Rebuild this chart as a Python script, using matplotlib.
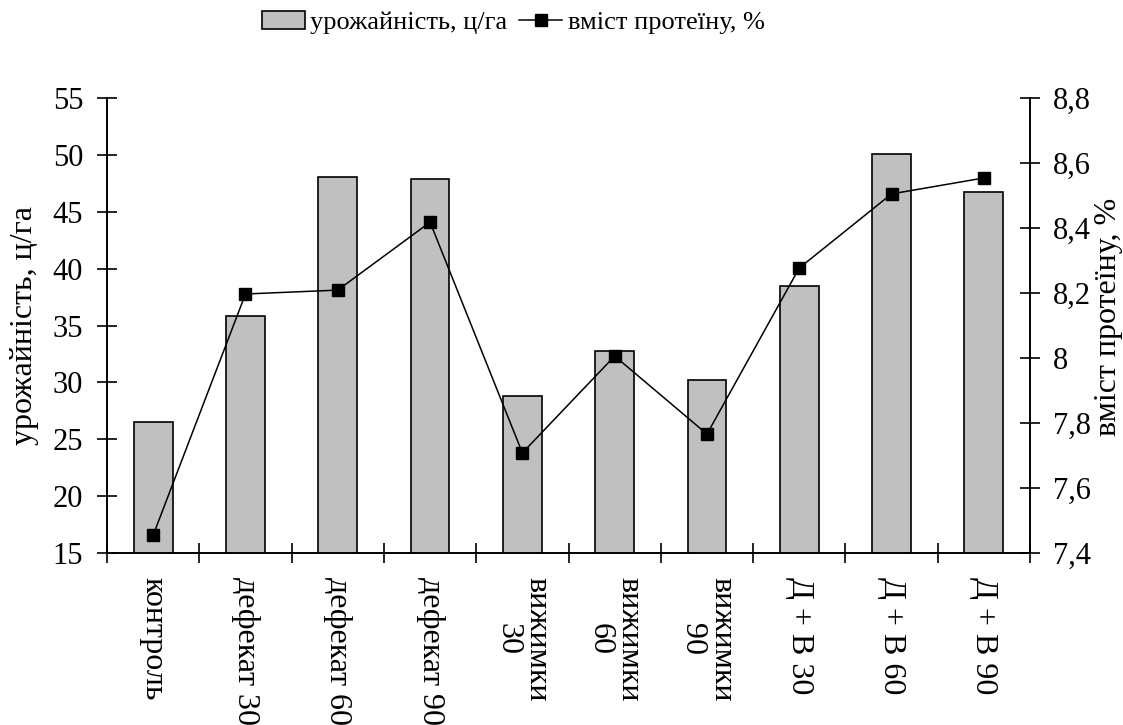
import matplotlib.pyplot as plt
import numpy as np

categories = ["контроль", "дефекат 30", "дефекат 60", "дефекат 90", "вижимки\n30",
              "вижимки\n60", "вижимки\n90", "Д + В 30", "Д + В 60", "Д + В 90"]
yield_cwt = [26.5, 35.8, 48.1, 47.9, 28.8, 32.8, 30.2, 38.5, 50.1, 46.7]
protein = [7.455, 8.197, 8.209, 8.418, 7.708, 8.006, 7.766, 8.277, 8.505, 8.554]

plt.rcParams["font.family"] = ["Liberation Serif", "DejaVu Serif"]
plt.rcParams["font.size"] = 22

fig = plt.figure(figsize=(11.23, 7.25), dpi=100)
ax = fig.add_axes([0.0953, 0.2372, 0.9172 - 0.0953, 0.8648 - 0.2372])
ax2 = ax.twinx()

x = np.arange(len(categories))
bars = ax.bar(x, yield_cwt, width=0.42, color="#c0c0c0", edgecolor="black",
              linewidth=1.2, zorder=2)
line, = ax2.plot(x, protein, color="black", linewidth=1.1, marker="s",
                 markersize=8)

ax.set_xlim(-0.5, len(categories) - 0.5)
ax.set_ylim(15, 55)
ax.set_yticks(range(15, 56, 5))
ax2.set_ylim(7.4, 8.8)
ax2.set_yticks([7.4, 7.6, 7.8, 8.0, 8.2, 8.4, 8.6, 8.8])
ax2.set_yticklabels(["7,4", "7,6", "7,8", "8", "8,2", "8,4", "8,6", "8,8"])

# category labels sit between the boundary ticks
ax.set_xticks(np.arange(-0.5, len(categories), 1.0))
ax.set_xticklabels([])
ax.set_xticks(x, minor=True)
ax.set_xticklabels(categories, minor=True, rotation=270, ha="center", va="top",
                   linespacing=1.0, fontsize=23)
ax.tick_params(axis="x", which="minor", length=0, pad=17)
ax.tick_params(axis="x", which="major", direction="inout", length=14.4, width=1.2)
ax.tick_params(axis="y", direction="inout", length=14.4, width=1.2, pad=10)
ax2.tick_params(axis="y", direction="inout", length=14.4, width=1.2, pad=9)

for a in (ax, ax2):
    a.spines["top"].set_visible(False)
    for s in ("left", "right", "bottom"):
        a.spines[s].set_linewidth(1.2)

ax.set_ylabel("урожайність, ц/га", fontsize=23)
ax.yaxis.set_label_coords(-0.074, 0.5)
ax2.set_ylabel("вміст протеїну, %", fontsize=23)
ax2.yaxis.set_label_coords(1.069, 0.52)

fig.legend([bars, line], ["урожайність, ц/га", "вміст протеїну, %"],
           loc="upper center", bbox_to_anchor=(0.457, 1.018), ncol=2, frameon=False,
           fontsize=19, handlelength=1.63, columnspacing=0.45, handletextpad=0.2)

fig.savefig("out.png", dpi=100)
